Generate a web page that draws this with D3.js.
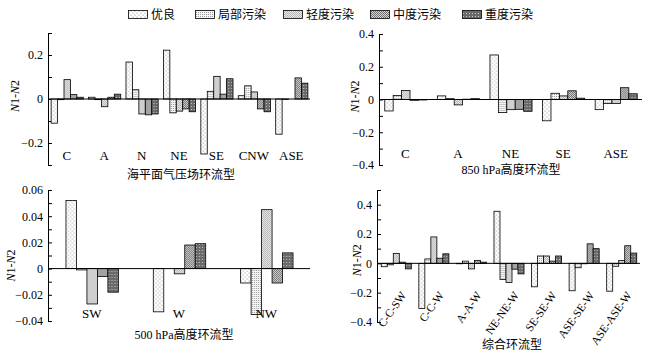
<!DOCTYPE html>
<html>
<head>
<meta charset="utf-8">
<script src="https://cdn.jsdelivr.net/npm/d3@7"></script>
<style>
  body { margin: 0; background: #fff; }
  svg { display: block; }
  text { font-family: "Liberation Serif", "Times New Roman", "Noto Sans CJK SC", serif; fill: #000; }
  .cjk { font-family: "Liberation Serif", "Noto Sans CJK SC", serif; }
</style>
</head>
<body>
<svg class="main" width="651" height="354"></svg>
<script>
const series = ["优良", "局部污染", "轻度污染", "中度污染", "重度污染"];

// sea level pressure types
const slpTypes = ["C", "A", "N", "NE", "SE", "CNW", "ASE"];
const slpValues = [
  [-0.11, -0.003, 0.088, 0.02, 0.008],
  [0.008, -0.003, -0.035, 0.008, 0.022],
  [0.168, 0.042, -0.068, -0.072, -0.068],
  [0.222, -0.063, -0.055, -0.045, -0.058],
  [-0.25, 0.035, 0.103, 0.022, 0.092],
  [0.015, 0.06, 0.032, -0.045, -0.058],
  [-0.16, -0.002, 0, 0.096, 0.072]
];

// 850 hPa types
const h850Types = ["C", "A", "NE", "SE", "ASE"];
const h850Values = [
  [-0.07, 0.025, 0.055, -0.005, -0.003],
  [0.022, 0.005, -0.033, 0.002, 0.005],
  [0.272, -0.08, -0.062, -0.06, -0.072],
  [-0.13, 0.038, 0.022, 0.053, 0.008],
  [-0.062, -0.025, -0.025, 0.072, 0.035]
];

// 500 hPa types
const h500Types = ["SW", "W", "NW"];
const h500Values = [
  [0.052, -0.001, -0.027, -0.006, -0.018],
  [-0.033, 0, -0.004, 0.018, 0.019],
  [-0.011, -0.035, 0.045, -0.011, 0.012]
];

// combined types
const comboTypes = ["C-C-SW", "C-C-W", "A-A-W", "NE-NE-W", "SE-SE-W", "ASE-SE-W", "ASE-ASE-W"];
const comboValues = [
  [-0.023, -0.01, 0.068, 0.008, -0.038],
  [-0.308, 0.03, 0.18, 0.035, 0.065],
  [-0.003, 0.015, -0.038, 0.02, 0.008],
  [0.355, -0.11, -0.13, -0.04, -0.072],
  [-0.16, 0.05, 0.05, 0.015, 0.05],
  [-0.187, -0.03, -0.003, 0.133, 0.1],
  [-0.19, -0.02, 0.02, 0.12, 0.07]
];

const svg = d3.select(".main");
const defs = svg.append("defs");

// fill patterns, one per pollution level
function pattern(id, size, bg, draw) {
  const p = defs.append("pattern")
    .attr("id", id)
    .attr("patternUnits", "userSpaceOnUse")
    .attr("width", size)
    .attr("height", size);
  p.append("rect").attr("width", size).attr("height", size).attr("fill", bg);
  draw(p);
}

pattern("p0", 4, "#fff", p => {
  p.append("circle").attr("cx", 1).attr("cy", 1).attr("r", 0.5).attr("fill", "#666");
  p.append("circle").attr("cx", 3).attr("cy", 3).attr("r", 0.5).attr("fill", "#666");
});
pattern("p1", 2, "#f6f6f6", p => {
  p.append("rect").attr("width", 1).attr("height", 1).attr("fill", "#9a9a9a");
});
pattern("p2", 2, "#eaeaea", p => {
  p.append("rect").attr("width", 1).attr("height", 1).attr("fill", "#b4b4b4");
  p.append("rect").attr("x", 1).attr("y", 1).attr("width", 1).attr("height", 1).attr("fill", "#b4b4b4");
});
pattern("p3", 2, "#d6d6d6", p => {
  p.append("rect").attr("width", 1).attr("height", 1).attr("fill", "#6e6e6e");
  p.append("rect").attr("x", 1).attr("y", 1).attr("width", 1).attr("height", 1).attr("fill", "#6e6e6e");
});
pattern("p4", 3, "#6a6a6a", p => {
  p.append("rect").attr("x", 1).attr("y", 1).attr("width", 1).attr("height", 1).attr("fill", "#c8c8c8");
});

const fills = series.map((s, i) => `url(#p${i})`);

// legend
const legendX = [128, 195, 283, 370, 462];
const legend = svg.append("g");
series.forEach((s, i) => {
  legend.append("rect")
    .attr("x", legendX[i] + 0.5)
    .attr("y", 10.5)
    .attr("width", 19)
    .attr("height", 8)
    .attr("fill", fills[i])
    .attr("stroke", "#000")
    .attr("stroke-width", 0.8);
  legend.append("text")
    .attr("class", "cjk")
    .attr("x", legendX[i] + 23)
    .attr("y", 18.5)
    .style("font-size", "12px")
    .text(s);
});

function panel(opts) {
  const { types, values, left, right, top, bottom, domain, step, labelStep,
    pad, title, titleX, titleY, labelY, ylabelX, rotate, fmt } = opts;

  const g = svg.append("g");

  const y = d3.scaleLinear().domain(domain).range([bottom, top]);
  const x0 = d3.scaleBand()
    .domain(types)
    .range([left, right])
    .paddingInner(pad)
    .paddingOuter(pad / 2);
  const x1 = d3.scaleBand()
    .domain(d3.range(series.length))
    .range([0, x0.bandwidth()]);

  const n = Math.round((domain[1] - domain[0]) / step);
  const ticks = d3.range(n + 1).map(i => +(domain[0] + i * step).toFixed(4));
  const isLabel = v => Math.abs(Math.round(v / labelStep) * labelStep - v) < 1e-6;

  g.append("g")
    .attr("transform", `translate(${left},0)`)
    .call(d3.axisLeft(y)
      .tickValues(ticks)
      .tickSizeInner(-4)
      .tickSizeOuter(0)
      .tickPadding(5)
      .tickFormat(v => (isLabel(v) ? (v === 0 ? "0" : fmt(v)) : "")))
    .call(a => a.selectAll("text").style("font-size", "12px").attr("font-family", null))
    .call(a => a.selectAll("line,path").attr("stroke", "#000"));

  // bars
  types.forEach((t, i) => {
    const grp = g.append("g").attr("transform", `translate(${x0(t)},0)`);
    values[i].forEach((v, j) => {
      grp.append("rect")
        .attr("x", x1(j) + 0.5)
        .attr("y", Math.min(y(v), y(0)))
        .attr("width", x1.bandwidth())
        .attr("height", Math.abs(y(v) - y(0)))
        .attr("fill", fills[j])
        .attr("stroke", "#000")
        .attr("stroke-width", 0.8);
    });
  });

  // zero line
  g.append("line")
    .attr("x1", left)
    .attr("x2", right)
    .attr("y1", y(0))
    .attr("y2", y(0))
    .attr("stroke", "#000");

  // category labels
  types.forEach(t => {
    const cx = x0(t) + x0.bandwidth() / 2;
    const label = g.append("text").text(t);
    if (rotate) {
      label.attr("text-anchor", "end")
        .style("font-size", "11.5px")
        .attr("transform", `translate(${cx + 11},${labelY}) rotate(-55)`);
    } else {
      label.attr("text-anchor", "middle")
        .style("font-size", "13px")
        .attr("x", cx).attr("y", labelY);
    }
  });

  // y label
  const yl = g.append("text")
    .attr("text-anchor", "middle")
    .attr("transform", `translate(${ylabelX},${y(0) - 3}) rotate(-90)`)
    .style("font-size", "12px");
  yl.append("tspan").style("font-style", "italic").text("N");
  yl.append("tspan").text("1-");
  yl.append("tspan").style("font-style", "italic").text("N");
  yl.append("tspan").text("2");

  g.append("text")
    .attr("class", "cjk")
    .attr("text-anchor", "middle")
    .attr("x", titleX)
    .attr("y", titleY)
    .style("font-size", "12px")
    .text(title);
}

const f1 = d3.format(".1f");
const f2 = d3.format(".2f");

panel({
  types: slpTypes, values: slpValues,
  left: 48, right: 310, top: 33, bottom: 165,
  domain: [-0.3, 0.3], step: 0.1, labelStep: 0.2, pad: 0.14, fmt: f1,
  title: "海平面气压场环流型", titleX: 181, titleY: 179, labelY: 160, ylabelX: 19
});

panel({
  types: h850Types, values: h850Values,
  left: 379, right: 642, top: 34, bottom: 165,
  domain: [-0.4, 0.4], step: 0.1, labelStep: 0.2, pad: 0.2, fmt: f1,
  title: "850 hPa高度环流型", titleX: 511, titleY: 174, labelY: 158, ylabelX: 359
});

panel({
  types: h500Types, values: h500Values,
  left: 48, right: 310, top: 190, bottom: 321,
  domain: [-0.04, 0.06], step: 0.01, labelStep: 0.02, pad: 0.4, fmt: f2,
  title: "500 hPa高度环流型", titleX: 184, titleY: 339, labelY: 318, ylabelX: 15
});

panel({
  types: comboTypes, values: comboValues,
  left: 377, right: 640, top: 190, bottom: 322,
  domain: [-0.4, 0.5], step: 0.1, labelStep: 0.2, pad: 0.2, fmt: f1, rotate: true,
  title: "综合环流型", titleX: 512, titleY: 349, labelY: 295, ylabelX: 361
});
</script>
</body>
</html>
